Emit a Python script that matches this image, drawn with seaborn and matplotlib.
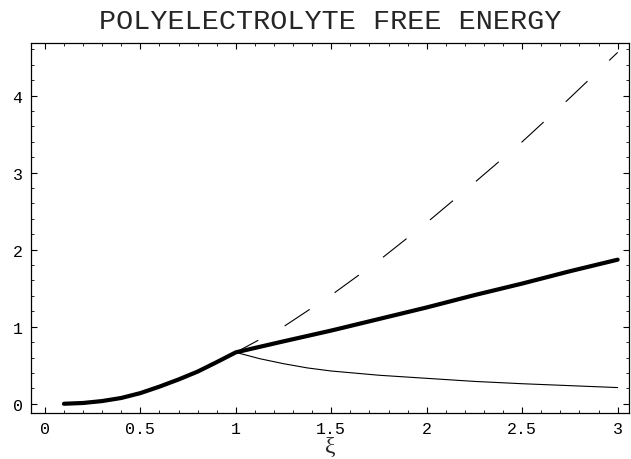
import numpy as np
import pandas as pd
import matplotlib
matplotlib.use("Agg")
import matplotlib.pyplot as plt
from matplotlib.ticker import MultipleLocator
import seaborn as sns

# values
xi_low = [0.1, 0.2, 0.3, 0.4, 0.5, 0.6, 0.7, 0.8, 0.9, 1.0]
f_low = [0.0, 0.01, 0.035, 0.075, 0.138, 0.222, 0.315, 0.417, 0.54, 0.667]

xi_high = [1.0, 1.25, 1.5, 1.75, 2.0, 2.25, 2.5, 2.75, 3.0]
f_condensed = [0.667, 0.81, 0.95, 1.10, 1.25, 1.41, 1.56, 1.72, 1.87]
f_dashed = [0.667, 1.0, 1.41, 1.86, 2.35, 2.87, 3.40, 3.97, 4.56]

xi_thin = [1.0, 1.125, 1.25, 1.375, 1.5, 1.75, 2.0, 2.25, 2.5, 2.75, 3.0]
f_thin = [0.667, 0.585, 0.52, 0.465, 0.425, 0.37, 0.33, 0.29, 0.26, 0.235, 0.21]

x_ticks = [0, 0.5, 1, 1.5, 2, 2.5, 3]
x_ticklabels = ["0", "0.5", "1", "1.5", "2", "2.5", "3"]
y_ticks = [0, 1, 2, 3, 4]

sns.set_theme(style="ticks")
plt.rcParams["font.family"] = ["Liberation Mono", "DejaVu Sans Mono"]

fig = plt.figure(figsize=(6.31, 4.6), dpi=100)
ax = fig.add_axes([0.049, 0.1, 0.948, 0.804])

thick = pd.DataFrame({"xi": xi_low + xi_high[1:], "f": f_low + f_condensed[1:]})
sns.lineplot(data=thick, x="xi", y="f", ax=ax, color="black", lw=3.0,
             sort=False, estimator=None, solid_capstyle="round")
sns.lineplot(x=xi_thin, y=f_thin, ax=ax, color="black", lw=0.8,
             sort=False, estimator=None)
sns.lineplot(x=xi_high, y=f_dashed, ax=ax, color="black", lw=0.8,
             sort=False, estimator=None, linestyle=(4, (27, 27)))

ax.set_xlim(-0.073, 3.06)
ax.set_ylim(-0.12, 4.68)
ax.set_xticks(x_ticks)
ax.set_xticklabels(x_ticklabels)
ax.set_yticks(y_ticks)
ax.xaxis.set_minor_locator(MultipleLocator(0.1))
ax.yaxis.set_minor_locator(MultipleLocator(0.2))
ax.tick_params(which="both", direction="in", top=True, right=True,
               colors="black", labelsize=12)
ax.tick_params(which="major", length=4.5, width=0.8)
ax.tick_params(which="minor", length=2.2, width=0.6)
ax.tick_params(axis="x", pad=6)
ax.tick_params(axis="y", pad=6)
for s in ax.spines.values():
    s.set_linewidth(0.9)
    s.set_color("black")

ax.set_xlabel("")
ax.set_ylabel("")
# x label placed by hand so the tall glyph stays inside the figure
fig.text(0.523, 0.004, "ξ", family=["Liberation Serif", "DejaVu Serif"],
         fontsize=17, ha="center", va="bottom")
fig.suptitle("POLYELECTROLYTE FREE ENERGY", x=0.523, y=0.98, fontsize=20.5)

fig.savefig("out.png", dpi=100)
